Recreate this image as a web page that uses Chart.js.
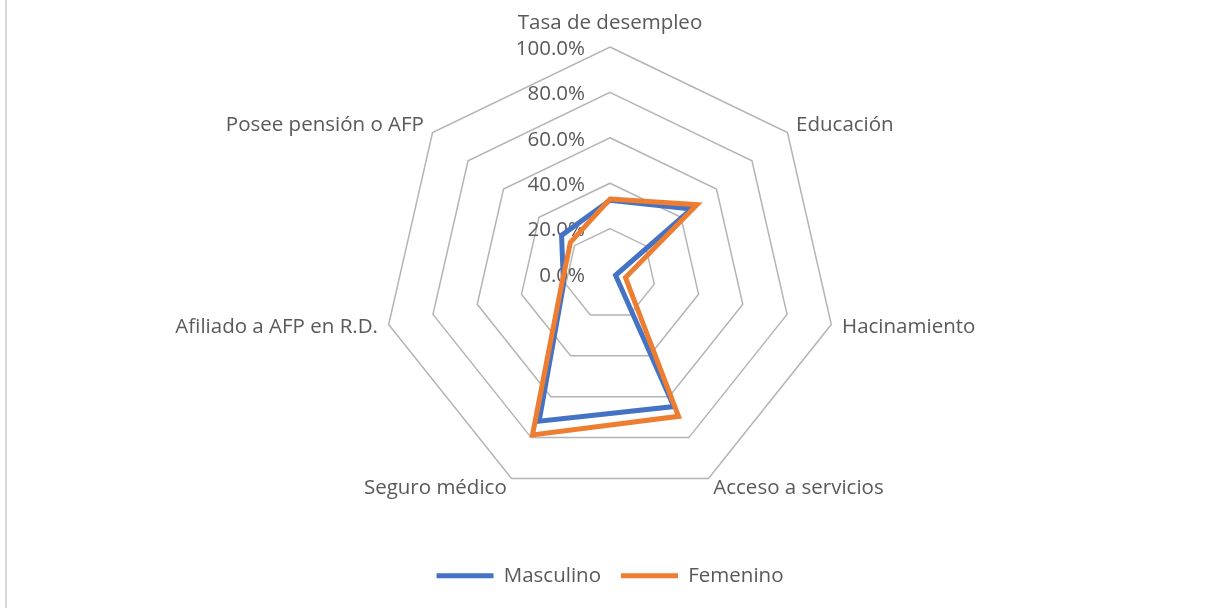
<!DOCTYPE html>
<html>
<head>
<meta charset="utf-8">
<script src="https://cdn.jsdelivr.net/npm/chart.js@4.4.1/dist/chart.umd.min.js"></script>
<style>
  body { margin: 0; background: #fff; }
  #wrap { position: relative; width: 1207px; height: 608px; }
  #frame { position: absolute; left: 5px; top: 0; width: 2px; height: 608px; background: #d9d9d9; }
  canvas { position: absolute; left: 0; top: 0; }
</style>
</head>
<body>
<div id="wrap">
  <canvas id="radar" width="1207" height="608"></canvas>
  <div id="frame"></div>
</div>
<script>
// datos
const categories = ['Tasa de desempleo', 'Educación', 'Hacinamiento', 'Acceso a servicios',
                    'Seguro médico', 'Afiliado a AFP en R.D.', 'Posee pensión o AFP'];
const masculino = [0.325, 0.46, 0.025, 0.648, 0.72, 0.21, 0.273];
const femenino  = [0.33, 0.49, 0.07, 0.696, 0.787, 0.219, 0.223];
const tickValues = [0, 0.2, 0.4, 0.6, 0.8, 1.0];
const tickLabels = ['0.0%', '20.0%', '40.0%', '60.0%', '80.0%', '100.0%'];

const textColor = '#595959';
const fontFamily = '"Open Sans", Lato, sans-serif';
const fontSize = 20.5;

// tick labels left of the vertical axis, like Excel does it
const tickLabelPlugin = {
    id: 'tickLabels',
    beforeDatasetsDraw(chart) {
        const scale = chart.scales.r;
        const ctx = chart.ctx;
        ctx.save();
        ctx.font = fontSize + 'px ' + fontFamily;
        ctx.fillStyle = textColor;
        ctx.textAlign = 'right';
        ctx.textBaseline = 'middle';
        tickValues.forEach((v, i) => {
            const d = scale.getDistanceFromCenterForValue(v);
            ctx.fillText(tickLabels[i], scale.xCenter - 25, scale.yCenter - d + 2);
        });
        ctx.restore();
    }
};

// category labels around the outer ring
const pointLabelPlugin = {
    id: 'pointLabels2',
    afterDraw(chart) {
        const scale = chart.scales.r;
        const ctx = chart.ctx;
        ctx.save();
        ctx.font = fontSize + 'px ' + fontFamily;
        ctx.fillStyle = textColor;
        ctx.textBaseline = 'middle';
        categories.forEach((label, i) => {
            const pad = i === 0 ? 24 : 11;
            const p = scale.getPointPosition(i, scale.drawingArea + pad);
            if (p.x > scale.xCenter + 1) ctx.textAlign = 'left';
            else if (p.x < scale.xCenter - 1) ctx.textAlign = 'right';
            else ctx.textAlign = 'center';
            ctx.fillText(label, p.x, p.y);
        });
        ctx.restore();
    }
};

const ctx = document.getElementById('radar').getContext('2d');
const chart = new Chart(ctx, {
    type: 'radar',
    data: {
        labels: categories,
        datasets: [{
            label: 'Masculino',
            data: masculino,
            borderColor: '#4472C4',
            backgroundColor: '#4472C4',
            borderWidth: 5,
            borderCapStyle: 'round',
            fill: false,
            pointRadius: 0,
            order: 1
        }, {
            label: 'Femenino',
            data: femenino,
            borderColor: '#ED7D31',
            backgroundColor: '#ED7D31',
            borderWidth: 5,
            borderCapStyle: 'round',
            fill: false,
            pointRadius: 0,
            order: 0
        }]
    },
    options: {
        responsive: false,
        animation: false,
        devicePixelRatio: 1,
        layout: {
            padding: { left: 383, right: 370, top: 4, bottom: 12 }
        },
        scales: {
            r: {
                min: 0,
                max: 1,
                ticks: { display: false, stepSize: 0.2 },
                pointLabels: { display: false },
                angleLines: { display: false },
                grid: { color: '#b4b4b4', lineWidth: 1.5 }
            }
        },
        plugins: {
            tooltip: { enabled: false },
            legend: {
                position: 'bottom',
                labels: {
                    usePointStyle: true,
                    pointStyle: 'line',
                    pointStyleWidth: 57,
                    padding: 20,
                    color: textColor,
                    font: { family: fontFamily, size: fontSize },
                    sort: (a, b) => a.datasetIndex - b.datasetIndex
                }
            }
        }
    },
    plugins: [tickLabelPlugin, pointLabelPlugin]
});
</script>
</body>
</html>
